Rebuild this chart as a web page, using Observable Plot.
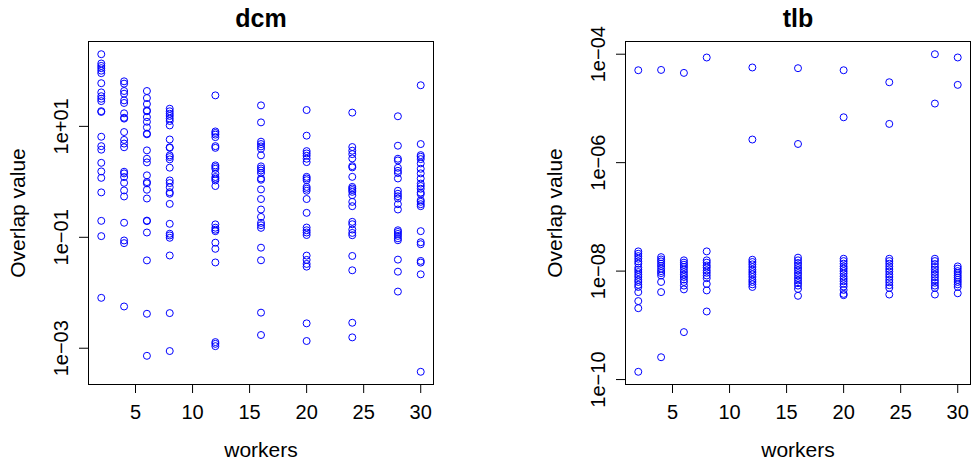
<!DOCTYPE html>
<html><head><meta charset="utf-8">
<script src="https://cdn.jsdelivr.net/npm/d3@7"></script>
<script src="https://cdn.jsdelivr.net/npm/@observablehq/plot@0.6"></script>
<style>
body{margin:0;background:#fff;}
#wrap{display:flex;width:972px;height:466px;overflow:hidden;}
#wrap svg{display:block;flex:none;}
</style></head><body><div id="wrap"></div>
<script>
const workers = [2, 4, 6, 8, 12, 16, 20, 24, 28, 30];

const dcmW2  = [200, 136, 123, 112, 101, 91, 60, 41, 35, 31.5, 28.5, 18.8, 18.2, 6.5, 4.4, 3.8, 2.2, 1.54, 1.18, 0.645, 0.198, 0.105, 0.0081];
const dcmW4  = [64.9, 58.9, 43.4, 38.8, 29.4, 26.4, 17.2, 14.3, 13.8, 7.9, 5.7, 4.9, 4.2, 1.52, 1.42, 1.22, 0.96, 0.70, 0.545, 0.183, 0.0877, 0.0785, 0.00566];
const dcmW6  = [43.4, 32.4, 25.3, 19.4, 18.7, 14.7, 12.1, 9.6, 7.4, 7.2, 3.69, 2.61, 2.24, 1.31, 0.99, 0.94, 0.72, 0.50, 0.20, 0.196, 0.122, 0.0383, 0.00418, 0.00073];
const dcmW8  = [20.8, 18.7, 16.9, 15.4, 13.8, 12.5, 10.4, 5.8, 4.2, 4.1, 3.0, 2.8, 2.54, 1.80, 1.06, 0.95, 0.80, 0.65, 0.61, 0.40, 0.175, 0.116, 0.108, 0.098, 0.047, 0.0043, 0.00089];
const dcmW12 = [36.2, 8.1, 7.6, 7.1, 6.4, 4.4, 4.1, 1.98, 1.85, 1.72, 1.40, 1.22, 1.14, 1.06, 0.84, 0.171, 0.149, 0.137, 0.129, 0.080, 0.062, 0.0352, 0.00129, 0.0012, 0.00109];
const dcmW16 = [23.9, 11.8, 5.3, 4.8, 4.35, 3.95, 3.0, 1.90, 1.74, 1.60, 1.44, 1.15, 1.09, 0.73, 0.49, 0.317, 0.233, 0.182, 0.165, 0.148, 0.065, 0.0385, 0.00438, 0.00173];
const dcmW20 = [19.7, 6.8, 3.58, 3.25, 2.95, 2.61, 2.27, 1.23, 1.15, 1.07, 0.81, 0.75, 0.69, 0.49, 0.276, 0.150, 0.134, 0.122, 0.110, 0.0468, 0.0391, 0.0331, 0.0296, 0.00281, 0.00135];
const dcmW24 = [17.7, 4.24, 3.64, 3.16, 2.64, 1.92, 1.82, 1.23, 0.81, 0.76, 0.71, 0.66, 0.575, 0.435, 0.364, 0.190, 0.172, 0.138, 0.120, 0.109, 0.0461, 0.0254, 0.00288, 0.00157];
const dcmW28 = [15.2, 4.48, 2.61, 2.43, 1.79, 1.58, 1.44, 1.15, 0.69, 0.61, 0.55, 0.50, 0.395, 0.317, 0.134, 0.125, 0.115, 0.106, 0.096, 0.0885, 0.0396, 0.0240, 0.0105];
const dcmW30 = [55.1, 4.8, 3.03, 2.83, 2.57, 2.15, 1.72, 1.42, 1.15, 0.93, 0.84, 0.75, 0.64, 0.60, 0.467, 0.436, 0.395, 0.364, 0.129, 0.0815, 0.075, 0.0375, 0.035, 0.0215, 0.000376];

const tlbW2  = [5.06e-5, 2.31e-8, 2.09e-8, 1.89e-8, 1.69e-8, 1.51e-8, 1.37e-8, 1.16e-8, 1.06e-8, 9.6e-9, 8.6e-9, 7.8e-9, 6.9e-9, 6.3e-9, 5.6e-9, 5.1e-9, 4.1e-9, 2.8e-9, 2.07e-9, 1.39e-10];
const tlbW4  = [5.13e-5, 1.81e-8, 1.64e-8, 1.51e-8, 1.37e-8, 1.24e-8, 1.11e-8, 1.0e-8, 9.2e-9, 8.3e-9, 6.3e-9, 4.1e-9, 2.58e-10];
const tlbW6  = [4.52e-5, 1.58e-8, 1.43e-8, 1.31e-8, 1.19e-8, 1.07e-8, 9.6e-9, 8.6e-9, 7.8e-9, 7.0e-9, 6.3e-9, 5.4e-9, 4.6e-9, 7.5e-10];
const tlbW8  = [8.69e-5, 2.31e-8, 1.58e-8, 1.43e-8, 1.27e-8, 1.16e-8, 1.03e-8, 9.3e-9, 8.3e-9, 7.4e-9, 5.8e-9, 4.4e-9, 1.8e-9];
const tlbW12 = [5.69e-5, 2.67e-6, 1.62e-8, 1.47e-8, 1.33e-8, 1.19e-8, 1.06e-8, 9.6e-9, 8.7e-9, 7.8e-9, 6.9e-9, 6.3e-9, 5.7e-9, 5.1e-9];
const tlbW16 = [5.52e-5, 2.21e-6, 1.77e-8, 1.58e-8, 1.41e-8, 1.27e-8, 1.14e-8, 1.03e-8, 9.2e-9, 8.3e-9, 7.4e-9, 6.7e-9, 6.0e-9, 5.4e-9, 4.7e-9, 3.5e-9];
const tlbW20 = [5.06e-5, 6.87e-6, 1.69e-8, 1.53e-8, 1.37e-8, 1.22e-8, 1.11e-8, 1.0e-8, 9.0e-9, 8.0e-9, 7.2e-9, 6.5e-9, 5.8e-9, 5.2e-9, 4.5e-9, 3.8e-9, 3.6e-9];
const tlbW24 = [3.04e-5, 5.18e-6, 1.69e-8, 1.53e-8, 1.37e-8, 1.22e-8, 1.09e-8, 9.8e-9, 8.7e-9, 7.8e-9, 6.9e-9, 6.2e-9, 5.5e-9, 4.9e-9, 3.7e-9];
const tlbW28 = [1.0e-4, 1.23e-5, 1.69e-8, 1.53e-8, 1.35e-8, 1.19e-8, 1.07e-8, 9.6e-9, 8.6e-9, 7.7e-9, 6.8e-9, 6.1e-9, 5.4e-9, 4.9e-9, 3.7e-9];
const tlbW30 = [8.7e-5, 2.72e-5, 1.22e-8, 1.11e-8, 1.0e-8, 9.2e-9, 8.3e-9, 7.6e-9, 6.9e-9, 6.3e-9, 5.7e-9, 5.1e-9, 3.9e-9];

const dcmValues = [dcmW2, dcmW4, dcmW6, dcmW8, dcmW12, dcmW16, dcmW20, dcmW24, dcmW28, dcmW30];
const tlbValues = [tlbW2, tlbW4, tlbW6, tlbW8, tlbW12, tlbW16, tlbW20, tlbW24, tlbW28, tlbW30];

const xTicks = [5, 10, 15, 20, 25, 30];
const dcmYTicks = [10, 0.1, 0.001];
const dcmYTickLabels = ["1e+01", "1e\u221201", "1e\u221203"];
const tlbYTicks = [1e-4, 1e-6, 1e-8, 1e-10];
const tlbYTickLabels = ["1e\u221204", "1e\u221206", "1e\u221208", "1e\u221210"];
const panelTitles = ["dcm", "tlb"];
const xLabel = "workers";
const yLabel = "Overlap value";

function toRows(values) {
  return workers.flatMap((w, i) => values[i].map(v => ({workers: w, value: v})));
}

function panel(title, values, yTicks, yTickLabels, marginLeft, marginRight) {
  const data = toRows(values);
  const [x0, x1] = d3.extent(workers);
  const xPad = 0.04 * (x1 - x0);
  const [l0, l1] = d3.extent(data, d => Math.log10(d.value));
  const yPad = 0.04 * (l1 - l0);
  return Plot.plot({
    width: 486, height: 466,
    marginLeft, marginRight, marginTop: 41, marginBottom: 82,
    style: {fontFamily: "'Liberation Sans', Arial, Helvetica, sans-serif", fontSize: "20px", color: "black", background: "white", overflow: "visible"},
    x: {domain: [x0 - xPad, x1 + xPad]},
    y: {type: "log", domain: [Math.pow(10, l0 - yPad), Math.pow(10, l1 + yPad)]},
    marks: [
      Plot.axisX(xTicks, {tickSize: 9, tickPadding: 11, fontSize: 20, label: null, stroke: "black"}),
      Plot.axisY(yTicks, {tickSize: 9, tickFormat: () => "", label: null, stroke: "black"}),
      Plot.text(yTicks, {y: d => d, text: (d, i) => yTickLabels[i], frameAnchor: "left", dx: -21, rotate: -90, textAnchor: "middle", lineAnchor: "bottom", fontSize: 20, fill: "black"}),
      Plot.dot(data, {x: "workers", y: "value", r: 3.5, stroke: "#0000ff", strokeWidth: 1, fill: "none"}),
      Plot.frame({stroke: "black", strokeWidth: 1}),
      Plot.text([title], {text: d => d, frameAnchor: "top", dy: -15, lineAnchor: "bottom", fontWeight: "bold", fontSize: 25, fill: "black"}),
      Plot.text([xLabel], {text: d => d, frameAnchor: "bottom", dy: 72, lineAnchor: "bottom", fontSize: 21, fill: "black"}),
      Plot.text([yLabel], {text: d => d, frameAnchor: "left", dx: -64, rotate: -90, textAnchor: "middle", lineAnchor: "bottom", fontSize: 21, fill: "black"})
    ]
  });
}

const wrap = document.getElementById("wrap");
wrap.append(panel(panelTitles[0], dcmValues, dcmYTicks, dcmYTickLabels, 88, 53));
wrap.append(panel(panelTitles[1], tlbValues, tlbYTicks, tlbYTickLabels, 139, 2));
</script>
</body></html>
